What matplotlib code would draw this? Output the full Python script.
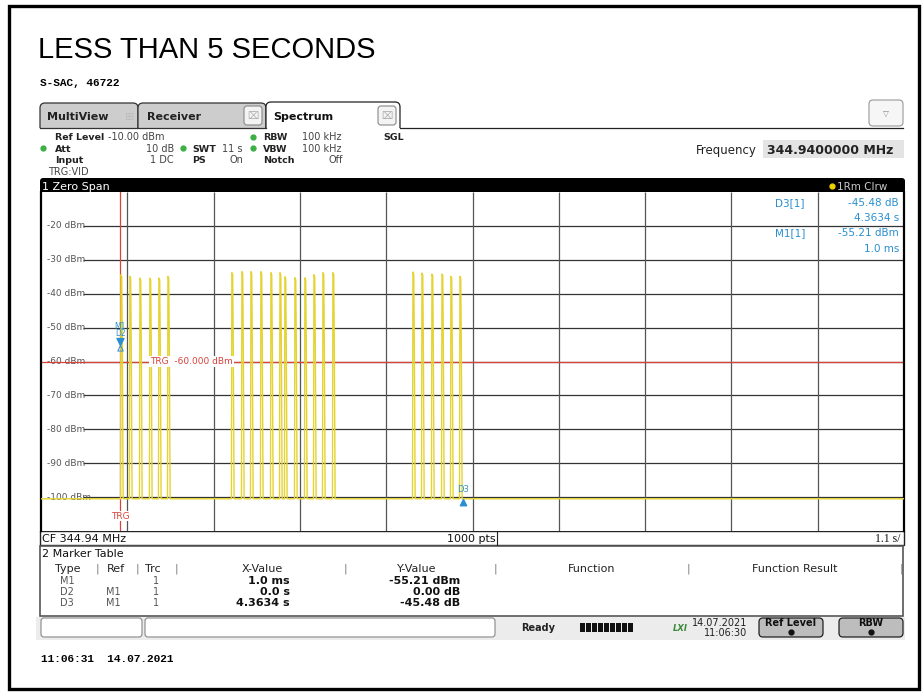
import numpy as np
import matplotlib.pyplot as plt
from matplotlib.patches import Rectangle, FancyBboxPatch

plt.rcParams['font.family'] = ['DejaVu Sans']

# sweep settings
sweep_time = 11.0      # s (SWT)
div_time = 1.1         # s/div
ref_level = -10.0      # dBm, top of grid
range_db = 100.0
trig_time = 1.01       # s from left edge of screen
trig_level = -60.0
floor_level = -100.5

y_levels = [-20, -30, -40, -50, -60, -70, -80, -90, -100]
y_labels = ['%d dBm' % v for v in y_levels]

# burst start times (s from left edge) and peak levels (dBm)
pulse_t = [1.015, 1.129, 1.257, 1.384, 1.499, 1.614,
           2.429, 2.557, 2.672, 2.799, 2.927, 3.042, 3.105, 3.233,
           3.360, 3.475, 3.590, 3.717,
           4.737, 4.852, 4.979, 5.107, 5.221, 5.336]
pulse_peak = [-34.4, -34.9, -35.4, -35.4, -35.4, -34.9,
              -33.8, -33.5, -33.5, -33.5, -33.8, -33.8, -35.0, -35.3,
              -35.3, -34.4, -33.8, -33.8,
              -33.6, -33.9, -34.2, -34.2, -34.9, -34.9]

# markers
m1_dt = 0.001          # s after trigger
m1_level = -55.21      # dBm
d3_dt = 4.3634         # s relative to M1
d3_rel = -45.48        # dB relative to M1

# marker table
mk_type = ['M1', 'D2', 'D3']
mk_ref = ['', 'M1', 'M1']
mk_trc = ['1', '1', '1']
mk_x = ['1.0 ms', '0.0 s', '4.3634 s']
mk_y = ['-55.21 dBm', '0.00 dB', '-45.48 dB']

blue = '#2a8fd0'
red = '#d8433b'
yellow = '#e4d330'

fig = plt.figure(figsize=(9.23, 6.92), dpi=100)
ui = fig.add_axes([0, 0, 1, 1], zorder=0)
ui.set_xlim(0, 923)
ui.set_ylim(692, 0)
ui.axis('off')


def T(x, y, s, size=7, ax=None, **kw):
    kw.setdefault('va', 'baseline')
    (ax or ui).text(x, y, s, fontsize=size, **kw)


def R(x0, y0, x1, y1, fc='none', ec='none', lw=0.8, r=0, z=1):
    if r:
        p = FancyBboxPatch((x0, y0), x1 - x0, y1 - y0,
                           boxstyle='round,pad=0,rounding_size=%g' % r,
                           fc=fc, ec=ec, lw=lw, zorder=z)
    else:
        p = Rectangle((x0, y0), x1 - x0, y1 - y0, fc=fc, ec=ec, lw=lw, zorder=z)
    ui.add_patch(p)


# outer frame
R(9, 6, 919, 689, ec='black', lw=2.4)

T(38, 57.5, 'LESS THAN 5 SECONDS', 21, family='Liberation Sans')
T(40, 86, 'S-SAC, 46722', 8, family='Liberation Mono', weight='bold')

# tabs
R(40, 103, 138, 132, fc='#cdcdcd', ec='#333', lw=0.9, r=5)
R(138, 103, 266, 132, fc='#cdcdcd', ec='#333', lw=0.9, r=5)
R(266, 102, 400, 132, fc='white', ec='#222', lw=0.9, r=5, z=2)
R(36, 128, 905, 178, fc='white', z=3)
ui.plot([400, 903], [127.5, 127.5], color='#222', lw=0.9, zorder=4)
ui.plot([40, 266], [127.5, 127.5], color='#333', lw=0.9, zorder=4)
T(47, 120.5, 'MultiView', 8, weight='bold', color='#222')
T(125, 120.5, '\u229e', 8, color='#bbb')
T(147, 120.5, 'Receiver', 8, weight='bold', color='#222')
T(273, 120.5, 'Spectrum', 8, weight='bold', color='#111')
for bx in (244, 378):
    R(bx, 106, bx + 18, 125, fc='#f4f4f4', ec='#888', lw=0.8, r=3, z=3)
    T(bx + 9, 119, '\u2327', 7, ha='center', color='#aaa')
R(869, 100, 903, 126, fc='#f6f6f6', ec='#999', lw=0.8, r=4)
T(886, 116, '\u25bd', 5.5, ha='center', color='#888')

# settings panel
lab = dict(weight='bold', color='#222')
val = dict(color='#444')
T(55, 140, 'Ref Level', 6.8, **lab)
T(108, 140, '-10.00 dBm', 7, **val)
T(55, 151.5, 'Att', 6.8, **lab)
T(174, 151.5, '10 dB', 7, ha='right', **val)
T(55, 163, 'Input', 6.8, **lab)
T(174, 163, '1 DC', 7, ha='right', **val)
T(48, 175, 'TRG:VID', 7, **val)
T(192, 151.5, 'SWT', 6.8, **lab)
T(243, 151.5, '11 s', 7, ha='right', **val)
T(192, 163, 'PS', 6.8, **lab)
T(243, 163, 'On', 7, ha='right', **val)
T(263, 140, 'RBW', 6.8, **lab)
T(302, 140, '100 kHz', 7, **val)
T(263, 151.5, 'VBW', 6.8, **lab)
T(302, 151.5, '100 kHz', 7, **val)
T(263, 163, 'Notch', 6.8, **lab)
T(343, 163, 'Off', 7, ha='right', **val)
T(383, 140, 'SGL', 6.8, **lab)
for dx, dy in [(43, 148), (183, 148), (253, 136.5), (253, 148)]:
    ui.plot(dx, dy, 'o', ms=3.5, color='#3cb043', zorder=5)
T(757, 154, 'Frequency', 8.5, ha='right', color='#222')
R(763, 140, 904, 158, fc='#e4e4e4', z=3)
T(767, 154, '344.9400000 MHz', 9, weight='bold', color='#222')

# diagram title bar
R(40, 178, 905, 193, fc='black', r=3, z=3)
T(42, 190, '1 Zero Span', 8, color='white')
ui.plot(832, 186, 'o', ms=3.5, color='#f0d000', zorder=5)
T(837, 190, '1Rm Clrw', 7.5, color='#c8c8c8')

# bottom bar of diagram
R(40, 531, 904, 545, fc='white', ec='#222', lw=1.0, z=3)
ui.plot([497, 497], [531, 545], color='#222', lw=0.8, zorder=4)
T(42, 542, 'CF 344.94 MHz', 8, color='#111')
T(447, 542, '1000 pts', 8, color='#111')
T(900, 542, '1.1 s/', 8.5, ha='right', family='Liberation Serif', color='#111')

# marker table panel
R(40, 546, 903, 616, fc='white', ec='#555', lw=1.2, z=3)
T(42, 557, '2 Marker Table', 8, color='#111')
hdr = [('Type', 55, 'left'), ('|', 97, 'center'), ('Ref', 107, 'left'),
       ('|', 137, 'center'), ('Trc', 145, 'left'), ('|', 176, 'center'),
       ('X-Value', 262, 'center'), ('|', 345, 'center'),
       ('Y-Value', 417, 'center'), ('|', 495, 'center'),
       ('Function', 592, 'center'), ('|', 688, 'center'),
       ('Function Result', 795, 'center'), ('|', 901, 'center')]
for s, x, ha in hdr:
    T(x, 572, s, 8, ha=ha, color='#222' if s != '|' else '#777')
for i, yb in enumerate([584, 595, 606]):
    T(67, yb, mk_type[i], 7, ha='center', color='#555')
    T(113, yb, mk_ref[i], 7, ha='center', color='#555')
    T(156, yb, mk_trc[i], 7, ha='center', color='#555')
    T(290, yb, mk_x[i], 8, ha='right', weight='bold', color='#111')
    T(460, yb, mk_y[i], 8, ha='right', weight='bold', color='#111')

# status bar
R(36, 617, 905, 640, fc='#ececec', z=1)
R(41, 618, 142, 637, fc='white', ec='#888', lw=0.8, r=3, z=3)
R(145, 618, 495, 637, fc='white', ec='#888', lw=0.8, r=3, z=3)
T(538, 631, 'Ready', 7, ha='center', weight='bold', color='#222')
for k in range(9):
    R(580 + k * 6, 623, 585 + k * 6, 632, fc='#111', z=3)
T(680, 631, 'LXI', 6, ha='center', weight='bold', style='italic', color='#3a8a3a')
T(747, 626, '14.07.2021', 7, ha='right', color='#222')
T(747, 636, '11:06:30', 7, ha='right', color='#222')
for x0, x1, s in [(759, 823, 'Ref Level'), (839, 903, 'RBW')]:
    R(x0, 618, x1, 637, fc='#bdbdbd', ec='#222', lw=0.9, r=4, z=3)
    T((x0 + x1) / 2, 626, s, 7, ha='center', weight='bold', color='#111')
    ui.plot((x0 + x1) / 2, 632, 'o', ms=3.5, color='#111', zorder=5)

T(41, 662, '11:06:31  14.07.2021', 8, family='Liberation Mono', weight='bold')

# ---- measurement diagram ----
ax = fig.add_axes([41 / 923, 1 - 531 / 692, 863 / 923, 339 / 692], zorder=1)
ax.set_xlim(0, sweep_time)
ax.set_ylim(ref_level - range_db, ref_level)
ax.set_xticks([])
ax.set_yticks([])
for sp in ('top', 'bottom'):
    ax.spines[sp].set_visible(False)
for sp in ('left', 'right'):
    ax.spines[sp].set_linewidth(1.6)

ax.hlines(y_levels, 0.535, sweep_time, color='#333333', lw=0.9, zorder=1)
ax.vlines(np.arange(1, 10) * div_time, ref_level - range_db, ref_level,
          color='#555555', lw=0.9, zorder=1)
for v, s in zip(y_levels, y_labels):
    ax.text(0.076, v, s, fontsize=6.5, color='#555', va='center', zorder=2)

tr_t = [0.0]
tr_v = [floor_level]
for t0, pk in zip(pulse_t, pulse_peak):
    tr_t += [t0 - 0.002, t0 + 0.004, t0 + 0.014, t0 + 0.022, t0 + 0.032]
    tr_v += [floor_level, pk, pk - 0.6, -57.0, floor_level]
tr_t.append(sweep_time)
tr_v.append(floor_level)
ax.plot(tr_t, tr_v, color=yellow, lw=1.0, zorder=3)

ax.axhline(trig_level, color=red, lw=0.9, zorder=2)
ax.axvline(trig_time, color=red, lw=0.9, zorder=2)
ax.text(1.39, trig_level, 'TRG  -60.000 dBm', fontsize=6.5, color=red, va='center',
        zorder=4, bbox=dict(fc='white', ec='none', pad=0.6))
ax.text(trig_time, -105.6, 'TRG', fontsize=6.5, color=red, va='center', ha='center',
        zorder=4, bbox=dict(fc='white', ec='none', pad=0.4))

down_tri = [(0, 0), (-0.6, 1.2), (0.6, 1.2), (0, 0)]
up_tri = [(0, 0), (-0.6, -1.2), (0.6, -1.2), (0, 0)]
m1_t = trig_time + m1_dt
d3_t = m1_t + d3_dt
d3_level = m1_level + d3_rel
ax.plot(m1_t, m1_level, marker=down_tri, ms=10, color=blue, zorder=6)
ax.plot(m1_t, m1_level, marker=up_tri, ms=8, mfc='none', mec=blue, mew=0.7, zorder=6)
ax.annotate('M1', (m1_t, m1_level), xytext=(0, 10.5), textcoords='offset points',
            ha='center', va='bottom', fontsize=5.5, color=blue, zorder=6)
ax.annotate('D2', (m1_t, m1_level), xytext=(0, 5), textcoords='offset points',
            ha='center', va='bottom', fontsize=5.5, color=blue, zorder=6)
ax.plot(d3_t, d3_level, marker=up_tri, ms=9, color=blue, zorder=6)
ax.annotate('D3', (d3_t, d3_level), xytext=(0, 4), textcoords='offset points',
            ha='center', va='bottom', fontsize=6, color=blue, zorder=6)

# marker readout (overlay)
ov = fig.add_axes([0, 0, 1, 1], zorder=2)
ov.set_xlim(0, 923)
ov.set_ylim(692, 0)
ov.axis('off')
T(775, 206, 'D3[1]', 7.5, ax=ov, color=blue)
T(899, 206, '%.2f dB' % d3_rel, 7.5, ax=ov, ha='right', color=blue)
T(899, 221, '%.4f s' % d3_dt, 7.5, ax=ov, ha='right', color=blue)
T(775, 236, 'M1[1]', 7.5, ax=ov, color=blue)
T(899, 236, '%.2f dBm' % m1_level, 7.5, ax=ov, ha='right', color=blue)
T(899, 252, '%.1f ms' % (m1_dt * 1000), 7.5, ax=ov, ha='right', color=blue)

fig.savefig('out.png', dpi=100)
